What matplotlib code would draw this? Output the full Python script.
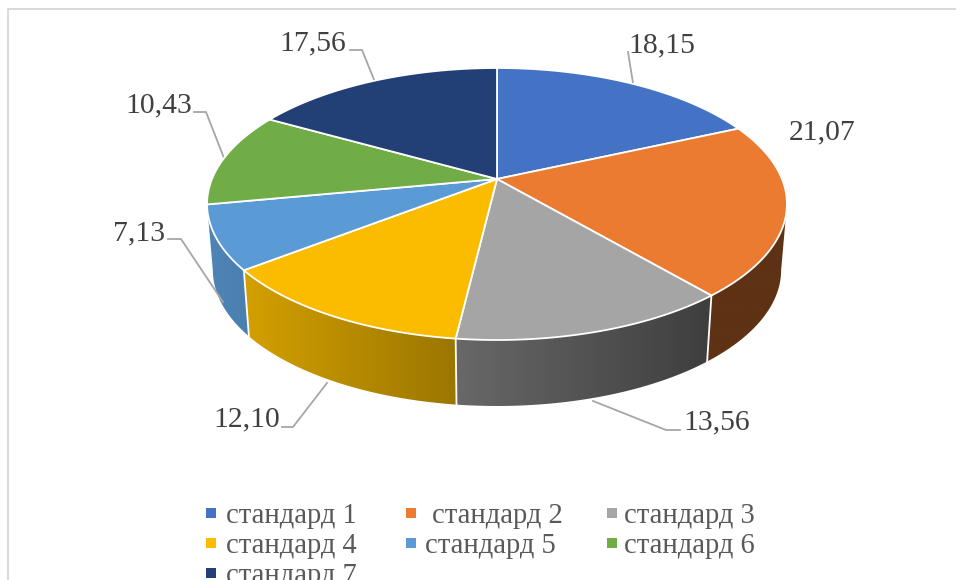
#!/usr/bin/env python3
"""
3D pie chart of the standards, drawn with a perspective projection of a disk.
"""

import numpy as np
import matplotlib
matplotlib.use('Agg')
import matplotlib.pyplot as plt
from matplotlib.colors import to_rgb
from matplotlib.patches import Polygon

categories = ['стандард 1', 'стандард 2', 'стандард 3', 'стандард 4',
              'стандард 5', 'стандард 6', 'стандард 7']
values = [18.15, 21.07, 13.56, 12.10, 7.13, 10.43, 17.56]
colors = ['#4472c4', '#ea7b30', '#a5a5a5', '#fbbc00', '#5b9bd5', '#70ad47', '#234076']

# side wall colour, left end -> right end
side_colors = {
    1: ('#5e3214', '#5e3214'),
    2: ('#686868', '#3e3e3e'),
    3: ('#d3a000', '#9b7600'),
    4: ('#4f84b6', '#4a7fb0'),
}

plt.rcParams['font.family'] = ['Liberation Serif', 'DejaVu Serif']

# projection of the unit disk on to the picture (pixels)
CX, CY = 497, 179
A, B, K = 285.0, 131.4, 0.1838
DEPTH = 66
SHRINK = 0.98
# small view correction of the slice boundaries, degrees
EDGE_TWEAK = [0, 0.3, -1.5, -3.2, -1.6, 0, 2.8, 0]
# where the projected disk is widest, the wall silhouette starts there
WIDEST = np.pi / 2 + np.arcsin(K)


def top_point(t):
    x, y = np.sin(t), -np.cos(t)
    d = 1 - K * y
    return CX + A * x / d, CY + B * y / d


def low_point(t):
    x, y = top_point(t)
    return CX + (x - CX) * SHRINK, y + DEPTH


fig = plt.figure(figsize=(9.56, 5.8), dpi=100)
ax = fig.add_axes([0, 0, 1, 1])

# chart frame (only top and left are visible in the crop)
ax.plot([8.5, 8.5, 956], [580, 8.5, 8.5], color='#d9d9d9', lw=1.4, zorder=1)

edges = np.concatenate([[0], np.cumsum(values)]) / np.sum(values) * 2 * np.pi
edges = edges + np.radians(EDGE_TWEAK)

# side walls, a horizontal gradient clipped to the wall outline
for i, (c_left, c_right) in side_colors.items():
    t0 = max(edges[i], WIDEST)
    t1 = min(edges[i + 1], 2 * np.pi - WIDEST)
    ts = np.linspace(t0, t1, 120)
    xt, yt = top_point(ts)
    xl, yl = low_point(ts)
    outline = np.column_stack([np.r_[xt, xl[::-1]], np.r_[yt, yl[::-1]]])
    x0, y0 = outline.min(axis=0)
    x1, y1 = outline.max(axis=0)
    ramp = np.linspace(0, 1, 128)[None, :, None]
    grad = (1 - ramp) * np.array(to_rgb(c_left)) + ramp * np.array(to_rgb(c_right))
    wall = Polygon(outline, closed=True, transform=ax.transData, fc='none', ec='none')
    ax.add_patch(wall)
    im = ax.imshow(grad, extent=(x0, x1, y1, y0), aspect='auto', zorder=2,
                   interpolation='bilinear')
    im.set_clip_path(wall)

# white dividers between the walls
for t in edges[2:5]:
    xa, ya = top_point(t)
    xb, yb = low_point(t)
    ax.plot([xa, xb], [ya, yb], color='white', lw=1.3, zorder=3)

# top face
for i in range(len(values)):
    ts = np.linspace(edges[i], edges[i + 1], 120)
    x, y = top_point(ts)
    ax.fill(np.r_[CX, x], np.r_[CY, y], facecolor=colors[i], edgecolor='white',
            lw=1.3, joinstyle='round', zorder=4)

# leader lines
leaders = [
    ([628, 633], [52, 83]),
    None,
    ([593, 666, 680], [401, 430, 430]),
    ([327, 293, 282], [383, 427, 427]),
    ([223, 181, 168], [302, 239, 239]),
    ([224, 206, 194], [158, 112, 112]),
    ([375, 362, 350], [82, 50, 50]),
]
for seg in leaders:
    if seg is not None:
        ax.plot(seg[0], seg[1], color='#a6a6a6', lw=1.3, zorder=3)

# data labels (left edge, vertical centre)
label_pos = [(628, 45), (789, 132), (683, 422), (213, 419), (113, 233), (125, 105), (279, 43)]
for v, (x, y) in zip(values, label_pos):
    ax.text(x, y, f'{v:.2f}'.replace('.', ','), fontsize=21.3, color='#404040',
            ha='left', va='center', zorder=5)

# legend, laid out as in the source chart
legend_marks = [(211, 513), (411, 513), (612, 513), (211, 543), (411, 543), (612, 543), (211, 573)]
legend_text = [(226, 516), (432, 516), (624, 516), (226, 546), (425, 546), (624, 546), (226, 576)]
for i, name in enumerate(categories):
    ax.plot(*legend_marks[i], marker='s', ms=7.5, color=colors[i], mew=0, zorder=5)
    ax.text(*legend_text[i], name, fontsize=20.6, color='#595959',
            ha='left', va='center', zorder=5)

ax.set_xlim(0, 956)
ax.set_ylim(580, 0)
ax.axis('off')

fig.savefig('out.png', dpi=100)
plt.close(fig)
